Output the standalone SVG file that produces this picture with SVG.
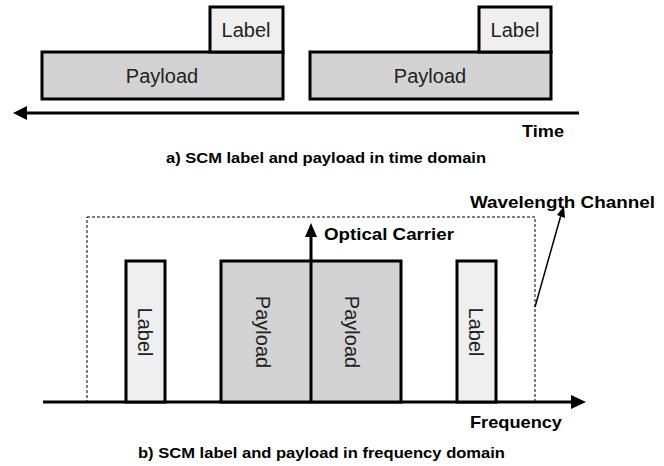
<svg xmlns="http://www.w3.org/2000/svg" width="664" height="466" viewBox="0 0 664 466">
<style>
.pay{fill:#d3d3d3;stroke:#000;stroke-width:3}
.lab{fill:#efefef;stroke:#000;stroke-width:3}
.t{font-family:"Liberation Sans",Arial,sans-serif;font-size:20px;fill:#222}
.b{font-family:"Liberation Sans",Arial,sans-serif;font-weight:bold;fill:#000}
.ax{stroke:#000;stroke-width:3;fill:none}
</style>
<rect width="664" height="466" fill="#fff"/>
<g id="top-payload1"><rect class="pay" x="42" y="52" width="241" height="47"/><text class="t" x="162" y="83" text-anchor="middle">Payload</text></g>
<g id="top-label1"><rect class="lab" x="210" y="7" width="73" height="45"/><text class="t" x="246" y="37" text-anchor="middle">Label</text></g>
<g id="top-payload2"><rect class="pay" x="310" y="52" width="241" height="47"/><text class="t" x="430" y="83" text-anchor="middle">Payload</text></g>
<g id="top-label2"><rect class="lab" x="479" y="7" width="72" height="45"/><text class="t" x="515" y="37" text-anchor="middle">Label</text></g>
<g id="connectors">
<line class="ax" x1="579" y1="113" x2="25" y2="113"/>
<polygon points="13,113 27,106 27,120" fill="#000"/>
<rect x="87" y="217" width="448" height="185" fill="none" stroke="#000" stroke-width="1" stroke-dasharray="3,2"/>
<line class="ax" x1="43" y1="402" x2="574" y2="402"/>
<polygon points="586,402 571,395 571,409" fill="#000"/>
<line x1="535" y1="307" x2="561" y2="215" stroke="#000" stroke-width="1.5"/>
<polygon points="564,206 565,218 557,215" fill="#000"/>
</g>
<text class="b" x="522" y="137" font-size="17" textLength="42" lengthAdjust="spacingAndGlyphs">Time</text>
<text class="b" x="166" y="163" font-size="15" textLength="320" lengthAdjust="spacingAndGlyphs">a) SCM label and payload in time domain</text>
<g id="f-label1"><rect class="lab" x="126" y="261" width="39" height="141"/><text class="t" transform="translate(145,332) rotate(90)" text-anchor="middle" dominant-baseline="central">Label</text></g>
<g id="f-payload"><rect class="pay" x="221" y="261" width="180" height="141"/><text class="t" transform="translate(263,332) rotate(90)" text-anchor="middle" dominant-baseline="central">Payload</text><text class="t" transform="translate(352,332) rotate(90)" text-anchor="middle" dominant-baseline="central">Payload</text></g>
<g id="f-label2"><rect class="lab" x="457" y="261" width="39" height="141"/><text class="t" transform="translate(476,332) rotate(90)" text-anchor="middle" dominant-baseline="central">Label</text></g>
<g id="carrier"><line class="ax" x1="311" y1="402" x2="311" y2="234"/><polygon points="311,223 305,237 317,237" fill="#000"/><text class="b" x="324" y="240" font-size="17" textLength="130" lengthAdjust="spacingAndGlyphs">Optical Carrier</text></g>
<text class="b" x="470" y="208" font-size="17" textLength="185" lengthAdjust="spacingAndGlyphs">Wavelength Channel</text>
<text class="b" x="470" y="428" font-size="17" textLength="92" lengthAdjust="spacingAndGlyphs">Frequency</text>
<text class="b" x="138" y="458" font-size="15" textLength="367" lengthAdjust="spacingAndGlyphs">b) SCM label and payload in frequency domain</text>
</svg>
